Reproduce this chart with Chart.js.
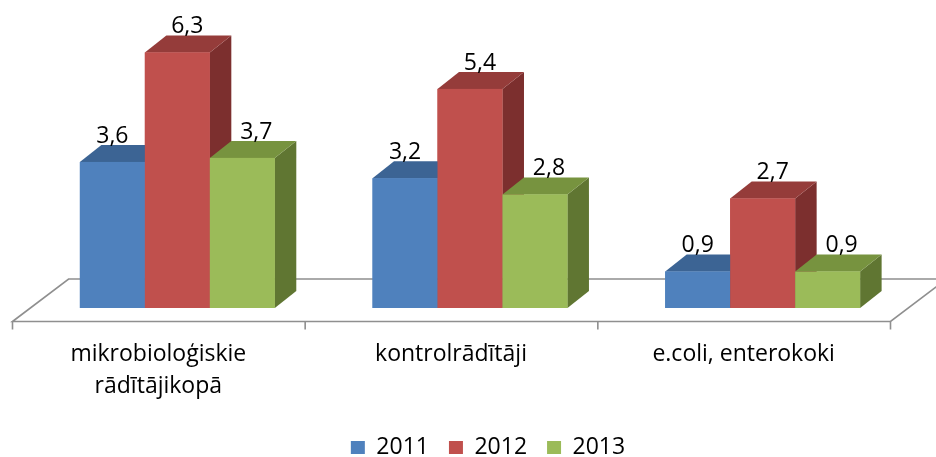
<!DOCTYPE html>
<html>
<head>
<meta charset="utf-8">
<script src="https://cdn.jsdelivr.net/npm/chart.js@4/dist/chart.umd.min.js"></script>
<style>
  html, body { margin: 0; padding: 0; background: #fff; }
  #wrap { width: 936px; height: 457px; }
</style>
</head>
<body>
<div id="wrap"><canvas id="c" width="936" height="457"></canvas></div>
<script>
// ---- data ----
const categories = [['mikrobioloģiskie', 'rādītājikopā'], 'kontrolrādītāji', 'e.coli, enterokoki'];
const seriesNames = ['2011', '2012', '2013'];
const values2011 = [3.6, 3.2, 0.9];
const values2012 = [6.3, 5.4, 2.7];
const values2013 = [3.7, 2.8, 0.9];

// ---- styles ----
const frontColors = ['#4F81BD', '#C0504D', '#9BBB59'];
const topColors   = ['#3C6494', '#953C3A', '#77933F'];
const sideColors  = ['#30507A', '#7C2F2E', '#607632'];
const labelDx     = [0, 10, 14];
const FONT = '"Open Sans"';
const FSIZE = 23;
const DX = 21.5, DY = 17; // bar depth projection

const floorPlugin = {
  id: 'floor3d',
  afterLayout(chart) {
    const lg = chart.legend;
    if (lg) { lg.left += 18; lg.right += 18; lg.top += 12; lg.bottom += 12; }
  },
  beforeDatasetsDraw(chart) {
    const ctx = chart.ctx;
    const ca = chart.chartArea;
    const xs = chart.scales.x;
    const base = ca.bottom;
    const k = 1.32;
    const frontY = base + 13.5, backY = base - 29;
    const fLeft = ca.left - 18.5, fRight = ca.right - 18.5;
    const dxF = (frontY - backY) * k;
    ctx.save();
    ctx.beginPath();
    ctx.moveTo(fLeft, frontY);
    ctx.lineTo(fLeft + dxF, backY);
    ctx.lineTo(fRight + dxF, backY);
    ctx.lineTo(fRight, frontY);
    ctx.closePath();
    ctx.fillStyle = '#ffffff';
    ctx.fill();
    ctx.strokeStyle = '#8f8f8f';
    ctx.lineWidth = 1.6;
    ctx.stroke();
    const n = xs.ticks.length;
    const step = (fRight - fLeft) / n;
    ctx.beginPath();
    for (let i = 0; i <= n; i++) {
      const x = fLeft + i * step;
      ctx.moveTo(x, frontY);
      ctx.lineTo(x, frontY + 8);
    }
    ctx.stroke();
    ctx.restore();
  },
  afterDatasetsDraw(chart) {
    const ctx = chart.ctx;
    const metas = chart.data.datasets.map((d, i) => chart.getDatasetMeta(i));
    const nCat = chart.data.labels.length;
    ctx.save();
    for (let j = 0; j < nCat; j++) {
      metas.forEach((meta, i) => {
        const el = meta.data[j];
        if (!el) return;
        const { x, y, base, width } = el.getProps(['x', 'y', 'base', 'width'], true);
        const l = x - width / 2, r = x + width / 2;
        ctx.beginPath();
        ctx.moveTo(r, y); ctx.lineTo(r + DX, y - DY); ctx.lineTo(r + DX, base - DY); ctx.lineTo(r, base);
        ctx.closePath();
        ctx.fillStyle = sideColors[i]; ctx.fill();
        ctx.beginPath();
        ctx.moveTo(l, y); ctx.lineTo(l + DX, y - DY); ctx.lineTo(r + DX, y - DY); ctx.lineTo(r, y);
        ctx.closePath();
        ctx.fillStyle = topColors[i]; ctx.fill();
        ctx.fillStyle = frontColors[i];
        ctx.fillRect(l, y, width, base - y);
      });
    }
    ctx.fillStyle = '#000';
    ctx.font = FSIZE + 'px ' + FONT;
    ctx.textAlign = 'center';
    ctx.textBaseline = 'alphabetic';
    metas.forEach((meta, i) => {
      const ds = chart.data.datasets[i];
      meta.data.forEach((el, j) => {
        const { x, y } = el.getProps(['x', 'y'], true);
        const txt = String(ds.data[j]).replace('.', ',');
        ctx.fillText(txt, x + labelDx[i], y - DY - 2);
      });
    });
    ctx.restore();
  }
};

function build() {
  new Chart(document.getElementById('c'), {
    type: 'bar',
    data: {
      labels: categories,
      datasets: [
        { label: seriesNames[0], data: values2011, backgroundColor: frontColors[0], borderWidth: 0 },
        { label: seriesNames[1], data: values2012, backgroundColor: frontColors[1], borderWidth: 0 },
        { label: seriesNames[2], data: values2013, backgroundColor: frontColors[2], borderWidth: 0 }
      ]
    },
    options: {
      responsive: false,
      animation: false,
      events: [],
      layout: { padding: { left: 31, right: 27, top: 24, bottom: 0 } },
      datasets: { bar: { barPercentage: 1, categoryPercentage: 0.666 } },
      scales: {
        x: {
          grid: { display: false, drawTicks: false },
          border: { display: false },
          ticks: {
            font: { family: FONT, size: FSIZE, lineHeight: 1.4 },
            color: '#000',
            padding: 30,
            labelOffset: -19,
            maxRotation: 0,
            autoSkip: false
          },
          afterFit: s => { s.height = 96; }
        },
        y: { display: false, min: 0, max: 7 }
      },
      plugins: {
        legend: {
          position: 'bottom',
          labels: {
            boxWidth: 14, boxHeight: 13, padding: 20,
            font: { family: FONT, size: FSIZE }, color: '#000'
          }
        },
        tooltip: { enabled: false }
      }
    },
    plugins: [floorPlugin]
  });
}
if (document.fonts && document.fonts.load) {
  document.fonts.load(FSIZE + 'px "Open Sans"').then(build, build);
} else { build(); }
</script>
</body>
</html>
